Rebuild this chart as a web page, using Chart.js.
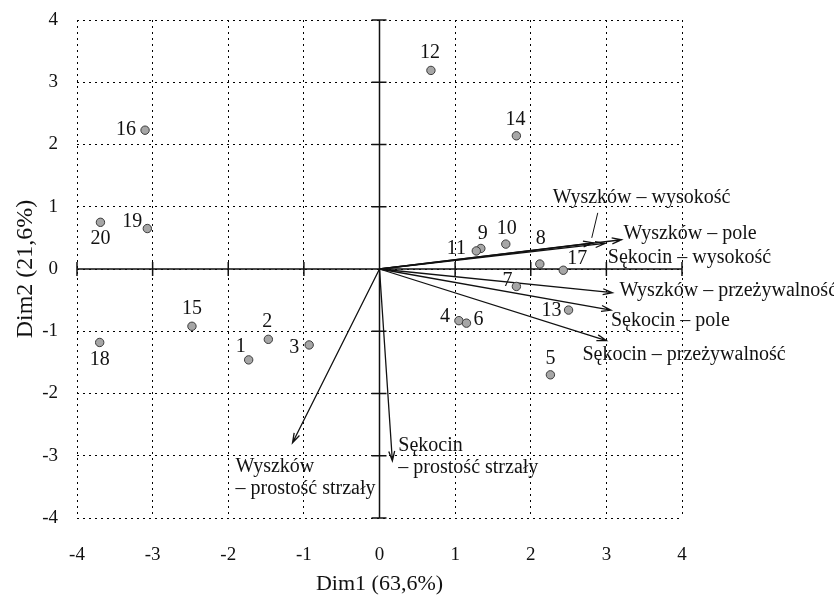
<!DOCTYPE html>
<html lang="pl">
<head>
    <meta charset="UTF-8">
    <title>PCA – Dim1 / Dim2</title>
    <script src="https://cdn.jsdelivr.net/npm/chart.js"></script>
    <style>
        body {
            margin: 0;
            background: #fff;
        }
        #wrap {
            width: 834px;
            height: 598px;
        }
    </style>
</head>
<body>
    <div id="wrap">
        <canvas id="pcaChart" width="834" height="598"></canvas>
    </div>

    <script>
        // objects (scores)
        const pointIds = ['1', '2', '3', '4', '5', '6', '7', '8', '9', '10',
                          '11', '12', '13', '14', '15', '16', '17', '18', '19', '20'];
        const dim1 = [-1.73, -1.47, -0.93, 1.05, 2.26, 1.15, 1.81, 2.12, 1.34, 1.67,
                      1.28, 0.68, 2.50, 1.81, -2.48, -3.10, 2.43, -3.70, -3.07, -3.69];
        const dim2 = [-1.46, -1.13, -1.22, -0.83, -1.70, -0.87, -0.28, 0.08, 0.33, 0.40,
                      0.29, 3.19, -0.66, 2.14, -0.92, 2.23, -0.02, -1.18, 0.65, 0.75];

        // variables (loadings)
        const varNames = [
            ['Wyszków – wysokość'],
            ['Wyszków – pole'],
            ['Sękocin – wysokość'],
            ['Wyszków – przeżywalność'],
            ['Sękocin – pole'],
            ['Sękocin – przeżywalność'],
            ['Sękocin', '– prostość strzały'],
            ['Wyszków', '– prostość strzały']
        ];
        const loadX = [2.82, 3.20, 2.98, 3.08, 3.06, 3.00, 0.17, -1.15];
        const loadY = [0.42, 0.47, 0.41, -0.38, -0.66, -1.15, -3.08, -2.79];

        const axisTicks = [-4, -3, -2, -1, 0, 1, 2, 3, 4];

        // label placement (pixels from the mark)
        const pointLabelOffset = [
            [-8, -13], [-1, -18], [-15, 3], [-14, -4], [0, -16], [12, -3], [-9, -6], [1, -25],
            [2, -15], [1, -15], [-20, -2], [-1, -18], [-17, 1], [-1, -16], [0, -18], [-19, 0],
            [14, -11], [0, 17], [-15, -7], [0, 16]
        ];
        const varLabelOffset = [[-40, -45], [2, -6], [3, 14], [7, -2], [0, 11], [-24, 14], [6, -15], [-57, 24]];

        const serif = "'Liberation Serif', 'DejaVu Serif', serif";
        const ink = '#111';

        // axes through zero, loading arrows and all text labels
        const biplot = {
            id: 'biplot',
            beforeDatasetsDraw(chart) {
                const ctx = chart.ctx;
                const xs = chart.scales.x, ys = chart.scales.y;
                const x0 = xs.getPixelForValue(0), y0 = ys.getPixelForValue(0);
                ctx.save();
                ctx.strokeStyle = ink;
                ctx.lineWidth = 1.5;
                ctx.beginPath();
                ctx.moveTo(xs.left, y0); ctx.lineTo(xs.right, y0);
                ctx.moveTo(x0, ys.top); ctx.lineTo(x0, ys.bottom);
                axisTicks.forEach(function (t) {
                    const px = xs.getPixelForValue(t), py = ys.getPixelForValue(t);
                    ctx.moveTo(px, y0 - 7); ctx.lineTo(px, y0 + 7);
                    ctx.moveTo(x0 - 8, py); ctx.lineTo(x0 + 7, py);
                });
                ctx.stroke();

                // arrows
                ctx.lineWidth = 1.3;
                loadX.forEach(function (lx, i) {
                    const tx = xs.getPixelForValue(lx), ty = ys.getPixelForValue(loadY[i]);
                    const a = Math.atan2(ty - y0, tx - x0);
                    ctx.beginPath();
                    ctx.moveTo(x0, y0); ctx.lineTo(tx, ty);
                    ctx.moveTo(tx - 10 * Math.cos(a - 0.3), ty - 10 * Math.sin(a - 0.3));
                    ctx.lineTo(tx, ty);
                    ctx.lineTo(tx - 10 * Math.cos(a + 0.3), ty - 10 * Math.sin(a + 0.3));
                    ctx.stroke();
                });

                // leader for the first variable
                const lx0 = xs.getPixelForValue(loadX[0]), ly0 = ys.getPixelForValue(loadY[0]);
                ctx.lineWidth = 1;
                ctx.beginPath();
                ctx.moveTo(lx0 - 1, ly0 - 5); ctx.lineTo(lx0 + 5, ly0 - 30);
                ctx.stroke();

                ctx.fillStyle = ink;
                ctx.font = '20px ' + serif;
                ctx.textAlign = 'left';
                ctx.textBaseline = 'middle';
                varNames.forEach(function (lines, i) {
                    const tx = xs.getPixelForValue(loadX[i]) + varLabelOffset[i][0];
                    const ty = ys.getPixelForValue(loadY[i]) + varLabelOffset[i][1];
                    lines.forEach(function (s, k) {
                        ctx.fillText(s, tx, ty + k * 22);
                    });
                });
                ctx.restore();
            },
            afterDatasetsDraw(chart) {
                const ctx = chart.ctx;
                const meta = chart.getDatasetMeta(0);
                ctx.save();
                ctx.fillStyle = ink;
                ctx.font = '20px ' + serif;
                ctx.textAlign = 'center';
                ctx.textBaseline = 'middle';
                meta.data.forEach(function (pt, i) {
                    ctx.fillText(pointIds[i], pt.x + pointLabelOffset[i][0], pt.y + pointLabelOffset[i][1]);
                });
                ctx.restore();
            }
        };

        const ctx = document.getElementById('pcaChart').getContext('2d');
        const chart = new Chart(ctx, {
            type: 'scatter',
            data: {
                datasets: [{
                    label: 'obiekty',
                    data: dim1.map((v, i) => ({ x: v, y: dim2[i] })),
                    backgroundColor: '#a6a6a6',
                    borderColor: '#3a3a3a',
                    borderWidth: 1,
                    pointRadius: 4.2
                }]
            },
            options: {
                responsive: false,
                animation: false,
                layout: { padding: { left: 0, right: 152, top: 20, bottom: 0 } },
                plugins: {
                    legend: { display: false },
                    tooltip: { enabled: false }
                },
                scales: {
                    x: {
                        type: 'linear',
                        min: -4,
                        max: 4,
                        ticks: {
                            stepSize: 1,
                            padding: 26,
                            color: ink,
                            font: { family: serif, size: 19 }
                        },
                        grid: { color: '#000', lineWidth: 1, drawTicks: false },
                        border: { display: false, dash: [2, 4] },
                        title: {
                            display: true,
                            text: 'Dim1 (63,6%)',
                            color: ink,
                            font: { family: serif, size: 22 },
                            padding: { top: 0, bottom: 1 }
                        },
                        afterFit: function (s) {
                            s.height = 80;
                            s.paddingLeft = 0;
                            s.paddingRight = 0;
                        }
                    },
                    y: {
                        type: 'linear',
                        min: -4,
                        max: 4,
                        ticks: {
                            stepSize: 1,
                            padding: 19,
                            color: ink,
                            font: { family: serif, size: 19 }
                        },
                        grid: { color: '#000', lineWidth: 1, drawTicks: false },
                        border: { display: false, dash: [2, 4] },
                        title: {
                            display: true,
                            text: 'Dim2 (21,6%)',
                            color: ink,
                            font: { family: serif, size: 24 },
                            padding: { top: 11, bottom: 0 }
                        },
                        afterFit: function (s) {
                            s.width = 77;
                            s.paddingTop = 0;
                            s.paddingBottom = 0;
                        }
                    }
                }
            },
            plugins: [biplot]
        });
    </script>
</body>
</html>
